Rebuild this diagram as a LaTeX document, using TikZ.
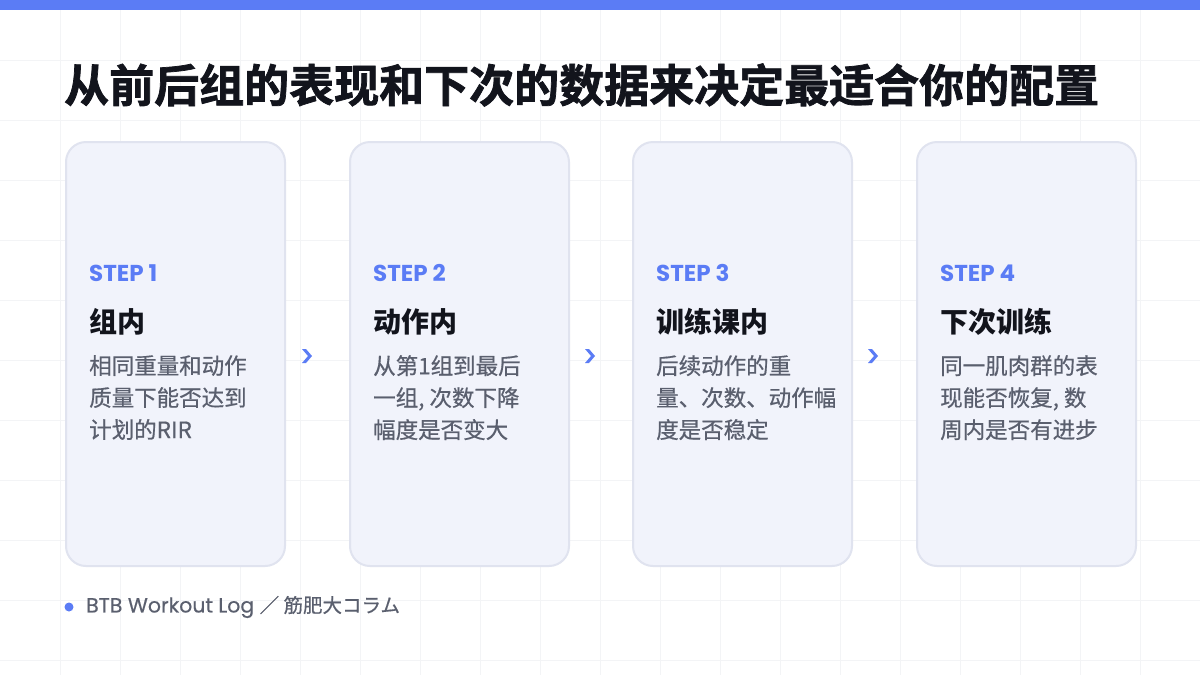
\documentclass[tikz,border=0pt]{standalone}
\usepackage{fontspec}
\usetikzlibrary{calc}
\setmainfont{Noto Sans CJK SC}
\newfontfamily\cjk{Noto Sans CJK SC}[FakeBold=0.6]
\newfontfamily\cjkb{Noto Sans CJK SC Bold}
\newfontfamily\cjkt{Noto Sans CJK SC Bold}[FakeBold=1.6]
\newfontfamily\pop{Poppins}[FakeBold=0.4]
\newfontfamily\popb{Poppins Bold}
\definecolor{accent}{HTML}{5B7CF5}
\definecolor{ink}{HTML}{12141C}
\definecolor{txtgray}{HTML}{5A5F6E}
\definecolor{cardfill}{HTML}{F1F3FB}
\definecolor{cardline}{HTML}{E0E3EF}
\definecolor{gridc}{HTML}{F3F4F6}
\tikzset{
 card/.style={draw=cardline,line width=2pt,fill=cardfill,rounded corners=20pt,minimum width=219pt,minimum height=424pt,anchor=north west,inner sep=0pt},
 stp/.style={anchor=west,text=accent,font=\popb\fontsize{23}{23}\selectfont},
 head/.style={anchor=west,text=ink,font=\cjkb\fontsize{28}{28}\selectfont\bfseries},
 body/.style={anchor=north west,text=txtgray,font=\cjk\fontsize{22.5}{32}\selectfont,align=left},
}
\begin{document}
\begin{tikzpicture}[x=1pt,y=-1pt]
\useasboundingbox (0,0) rectangle (1200,675);
\fill[white] (0,0) rectangle (1200,675);
\foreach \x in {60,120,...,1140} \draw[gridc,line width=0.8pt] (\x,0) -- (\x,675);
\foreach \y in {60,120,...,660} \draw[gridc,line width=0.8pt] (0,\y) -- (1200,\y);
\fill[accent] (0,0) rectangle (1200,10);
\node[anchor=west,text=ink,font=\cjkt\fontsize{45}{45}\selectfont,inner sep=0pt] (title) at (64,85) {从前后组的表现和下次的数据来决定最适合你的配置};
\foreach \i/\x/\s/\h/\b in {
 1/65/STEP 1/组内/{相同重量和动作\\质量下能否达到\\计划的RIR},
 2/349/STEP 2/动作内/{从第1组到最后\\一组, 次数下降\\幅度是否变大},
 3/632/STEP 3/训练课内/{后续动作的重\\量、次数、动作幅\\度是否稳定},
 4/916/STEP 4/下次训练/{同一肌肉群的表\\现能否恢复, 数\\周内是否有进步}}{
 \node[card] (c\i) at (\x,141) {};
 \node[stp,inner sep=0pt] (s\i) at (\x+24,273) {\s};
 \node[head,inner sep=0pt] (h\i) at (\x+24,322) {\h};
 \node[body,inner sep=0pt] (b\i) at (\x+24,355) {\b};
}
\foreach \x/\n in {307/1,590/2,873/3}{
 \coordinate (k\n) at (\x,356);
 \fill[accent] ($(k\n)+(-5,-7)$) -- ($(k\n)+(-1,-7)$) -- ($(k\n)+(5,0)$) -- ($(k\n)+(-1,7)$) -- ($(k\n)+(-5,7)$) -- ($(k\n)+(1,0)$) -- cycle;
}
\fill[accent] (69,607) circle (4.5);
\node[anchor=west,text=txtgray,inner sep=0pt] (foot) at (86,607) {{\pop\fontsize{20.5}{20}\selectfont BTB Workout Log }{\cjk\fontsize{19.5}{19}\selectfont ／ 筋肥大コラム}};
\end{tikzpicture}
\end{document}
